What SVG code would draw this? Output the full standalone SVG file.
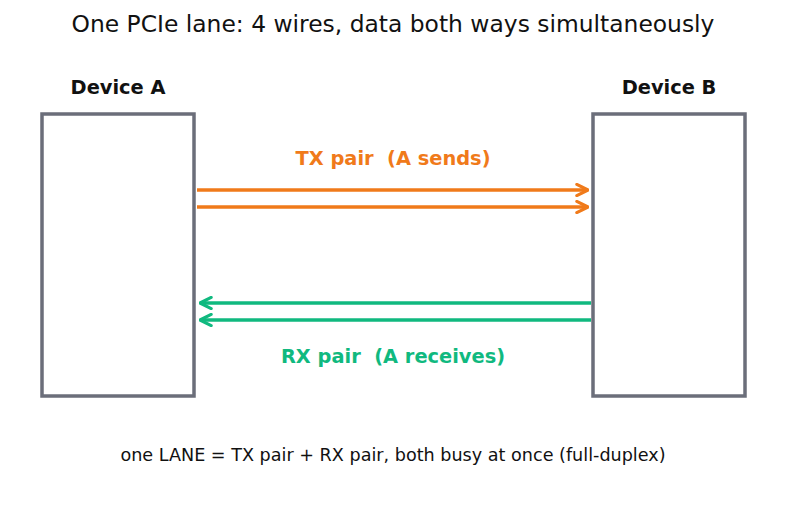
<svg xmlns="http://www.w3.org/2000/svg" width="787" height="510" viewBox="0 0 787 510">
<style>
text{font-family:"DejaVu Sans",sans-serif;text-anchor:middle;white-space:pre}
.box{fill:#fff;stroke:#6b6e7a;stroke-width:3.5}
.lbl{font-weight:bold;font-size:19.4px;fill:#111}
.tx{stroke:#f07a1a;stroke-width:3.5;fill:none}
.rx{stroke:#10b97f;stroke-width:3.5;fill:none}
</style>
<defs>
<marker id="ao" viewBox="0 0 10 10" refX="9" refY="5" markerWidth="4" markerHeight="4" orient="auto" markerUnits="strokeWidth"><path d="M1,1 L9,5 L1,9" fill="none" stroke="#f07a1a" stroke-width="2.2" stroke-linecap="round" stroke-linejoin="round"/></marker>
<marker id="ag" viewBox="0 0 10 10" refX="9" refY="5" markerWidth="4" markerHeight="4" orient="auto" markerUnits="strokeWidth"><path d="M1,1 L9,5 L1,9" fill="none" stroke="#10b97f" stroke-width="2.2" stroke-linecap="round" stroke-linejoin="round"/></marker>
</defs>
<rect width="787" height="510" fill="#fff"/>
<text x="393" y="32" font-size="23.4" fill="#111">One PCIe lane: 4 wires, data both ways simultaneously</text>
<g id="deviceA"><rect class="box" x="42" y="114" width="152" height="282"/><text class="lbl" x="118" y="94">Device A</text></g>
<g id="deviceB"><rect class="box" x="593" y="114" width="152" height="282"/><text class="lbl" x="669" y="94">Device B</text></g>
<g id="connectors">
<path class="tx" d="M197,190 H588" marker-end="url(#ao)"/>
<path class="tx" d="M197,207 H588" marker-end="url(#ao)"/>
<path class="rx" d="M591,303 H200" marker-end="url(#ag)"/>
<path class="rx" d="M591,320 H200" marker-end="url(#ag)"/>
<text class="lbl" x="393" y="165" style="fill:#f07a1a" xml:space="preserve">TX pair  (A sends)</text>
<text class="lbl" x="393" y="363" style="fill:#10b97f" xml:space="preserve">RX pair  (A receives)</text>
</g>
<text x="393" y="461" font-size="17.6" fill="#111">one LANE = TX pair + RX pair, both busy at once (full-duplex)</text>
</svg>
